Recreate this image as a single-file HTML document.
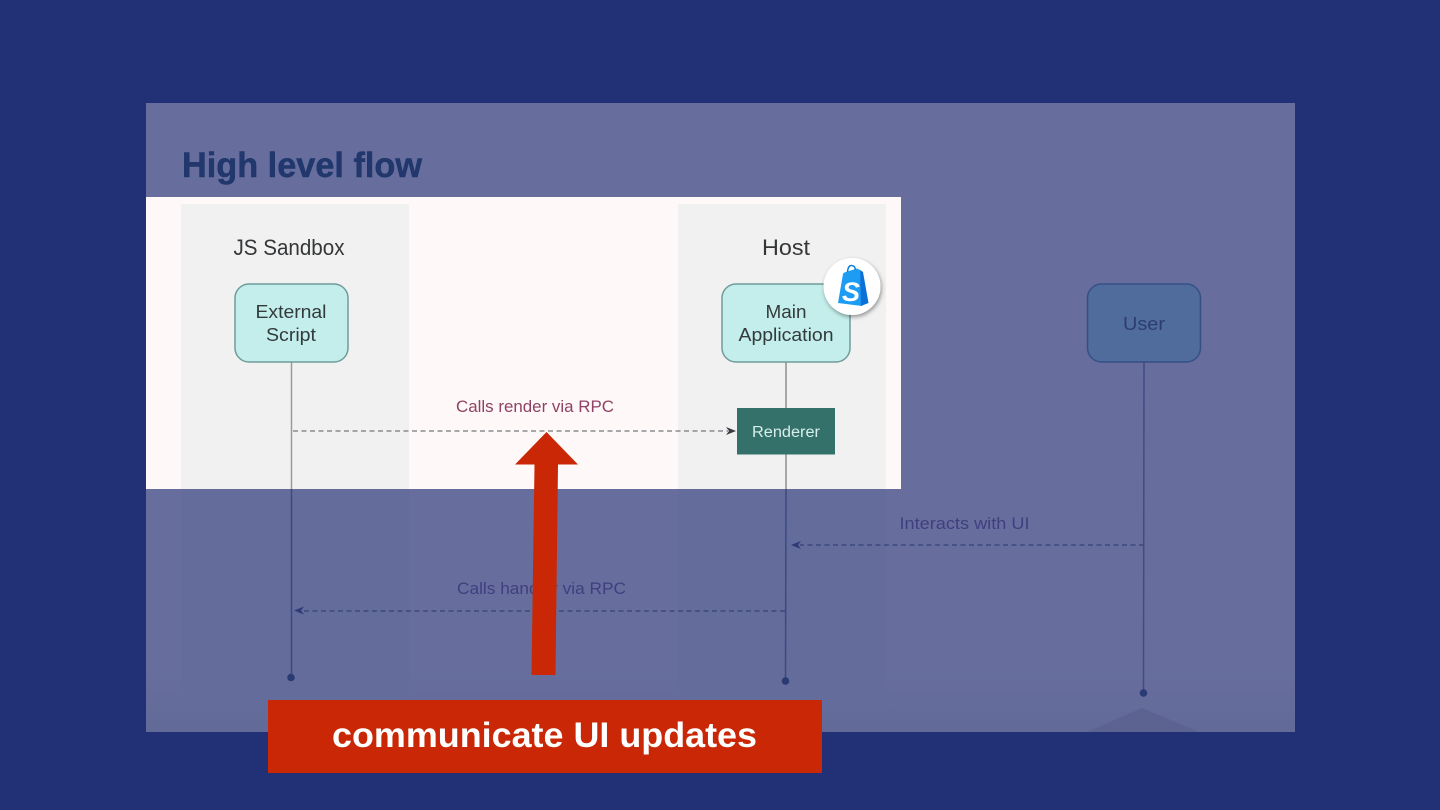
<!DOCTYPE html>
<html>
<head>
<meta charset="utf-8">
<style>
html,body{margin:0;padding:0;background:#223175;width:1440px;height:810px;overflow:hidden}
svg{display:block}
text{font-family:"Liberation Sans",sans-serif}
</style>
</head>
<body>
<svg width="1440" height="810" viewBox="0 0 1440 810" xmlns="http://www.w3.org/2000/svg">
<defs>
<filter id="sh" x="-30%" y="-30%" width="160%" height="160%"><feDropShadow dx="1" dy="2" stdDeviation="2" flood-color="#000" flood-opacity=".4"/></filter>
<filter id="soft" x="-5%" y="-5%" width="110%" height="110%"><feGaussianBlur stdDeviation="0.35"/></filter>
<linearGradient id="pg" x1="0" y1="0" x2="0" y2="1"><stop offset="0" stop-color="#676e9d"/><stop offset=".9" stop-color="#676e9d"/><stop offset="1" stop-color="#626a98"/></linearGradient>
</defs>
<rect width="1440" height="810" fill="#223175"/>
<!-- dimmed panel -->
<rect x="146" y="103" width="1149" height="629" fill="url(#pg)"/>
<text x="182" y="177" font-size="35" font-weight="700" fill="#20376d" stroke="#20376d" stroke-width=".5" textLength="240" lengthAdjust="spacingAndGlyphs" filter="url(#soft)">High level flow</text>
<!-- dimmed lanes -->
<rect x="181" y="489" width="228" height="223" fill="#646c9b"/>
<rect x="678" y="489" width="208" height="223" fill="#646c9b"/>
<!-- highlighted -->
<rect x="146" y="197" width="755" height="292" fill="#fef9f8"/>
<rect x="181" y="204" width="228" height="285" fill="#f1f1f1"/>
<rect x="678" y="204" width="208" height="285" fill="#f1f1f1"/>
<!-- lifelines -->
<line x1="291.500" y1="362" x2="291.500" y2="489" stroke="#9a9a9c" stroke-width="1.500"/>
<line x1="291.500" y1="489" x2="291.500" y2="677" stroke="#3c4a80" stroke-width="1.500"/>
<circle cx="291" cy="677.500" r="3.800" fill="#2a3a73"/>
<line x1="786" y1="362" x2="786" y2="408" stroke="#8d8f90" stroke-width="1.500"/>
<line x1="786" y1="454" x2="786" y2="489" stroke="#8d8f90" stroke-width="1.500"/>
<line x1="786" y1="489" x2="785.500" y2="681" stroke="#3c4a80" stroke-width="1.500"/>
<circle cx="785.500" cy="681" r="3.800" fill="#2a3a73"/>
<line x1="1144" y1="362" x2="1143.500" y2="693" stroke="#3f4d84" stroke-width="1.500"/>
<circle cx="1143.500" cy="693" r="3.800" fill="#2a3a73"/>
<!-- footer triangle -->
<polygon points="1087,732 1142,708 1199,732" fill="#5c6391"/>
<!-- boxes -->
<rect x="235" y="284" width="113" height="78" rx="14" fill="#c4eeeb" stroke="#6f9c99" stroke-width="1.500"/>
<text x="291" y="318" font-size="18" fill="#333a3c" text-anchor="middle" textLength="71" lengthAdjust="spacingAndGlyphs">External</text>
<text x="291" y="341" font-size="18" fill="#333a3c" text-anchor="middle" textLength="50" lengthAdjust="spacingAndGlyphs">Script</text>
<rect x="722" y="284" width="128" height="78" rx="14" fill="#c4eeeb" stroke="#6f9c99" stroke-width="1.500"/>
<text x="786" y="318" font-size="18" fill="#333a3c" text-anchor="middle" textLength="41" lengthAdjust="spacingAndGlyphs">Main</text>
<text x="786" y="341" font-size="18" fill="#333a3c" text-anchor="middle" textLength="95" lengthAdjust="spacingAndGlyphs">Application</text>
<rect x="737" y="408" width="98" height="46.500" fill="#35716b"/>
<text x="786" y="437" font-size="15.500" fill="#d8eeea" text-anchor="middle" textLength="68" lengthAdjust="spacingAndGlyphs">Renderer</text>
<rect x="1087.500" y="284" width="113" height="78" rx="14" fill="#4f6c9d" stroke="#374f85" stroke-width="1.500"/>
<text x="1144" y="330" font-size="18" fill="#2e3d70" text-anchor="middle" textLength="42" lengthAdjust="spacingAndGlyphs">User</text>
<!-- lane titles -->
<text x="289" y="255" font-size="22" fill="#343638" text-anchor="middle" textLength="111" lengthAdjust="spacingAndGlyphs">JS Sandbox</text>
<text x="786" y="255" font-size="22" fill="#343638" text-anchor="middle" textLength="48" lengthAdjust="spacingAndGlyphs">Host</text>
<!-- messages -->
<text x="535" y="412" font-size="16.500" fill="#8f4264" text-anchor="middle" textLength="158" lengthAdjust="spacingAndGlyphs">Calls render via RPC</text>
<line x1="293" y1="431" x2="728" y2="431" stroke="#8c8c90" stroke-width="1.400" stroke-dasharray="5 3.500"/>
<polygon points="736,431 726,427 729,431 726,435" fill="#3a3a40"/>
<text x="964.500" y="529" font-size="16.500" fill="#3f3f80" text-anchor="middle" textLength="130" lengthAdjust="spacingAndGlyphs">Interacts with UI</text>
<line x1="1144" y1="545" x2="800" y2="545" stroke="#3d4880" stroke-width="1.400" stroke-dasharray="5 3.500"/>
<polygon points="791,545 801,541 798,545 801,549" fill="#2f3a78"/>
<text x="541.500" y="594" font-size="16.500" fill="#3f3f80" text-anchor="middle" textLength="169" lengthAdjust="spacingAndGlyphs">Calls  handler via RPC</text>
<line x1="785" y1="611" x2="303" y2="611" stroke="#3d4880" stroke-width="1.400" stroke-dasharray="5 3.500"/>
<polygon points="294,610.500 304,606.500 301,610.500 304,614.500" fill="#2f3a78"/>
<!-- shopify badge -->
<circle cx="852" cy="286.500" r="28.500" fill="#fff" filter="url(#sh)"/>
<path d="M838 303 L843 274 Q843.500 272.500 846 272 L857 268.500 L860 270 L862 306 Z" fill="#1c9cf2"/>
<path d="M860 270 L863 272 L868.500 303 L861 306 Z" fill="#0a72d6"/>
<path d="M847.500 272 Q848 265.500 851.500 265.500 Q855 265.500 855.500 270" fill="none" stroke="#0f7fdc" stroke-width="1.500"/>
<text x="851" y="301" font-size="27" font-weight="700" font-style="italic" fill="#fff" text-anchor="middle">S</text>
<!-- red arrow -->
<polygon points="546.500,432 578,464.500 558,464.500 555.500,675 531.500,675 534.500,464.500 515,464.500" fill="#c92705"/>
<!-- caption -->
<rect x="268" y="700" width="554" height="73" fill="#c92705"/>
<text x="544.500" y="747" font-size="35" font-weight="700" fill="#fff" text-anchor="middle" textLength="425" lengthAdjust="spacingAndGlyphs">communicate UI updates</text>
</svg>
</body>
</html>
